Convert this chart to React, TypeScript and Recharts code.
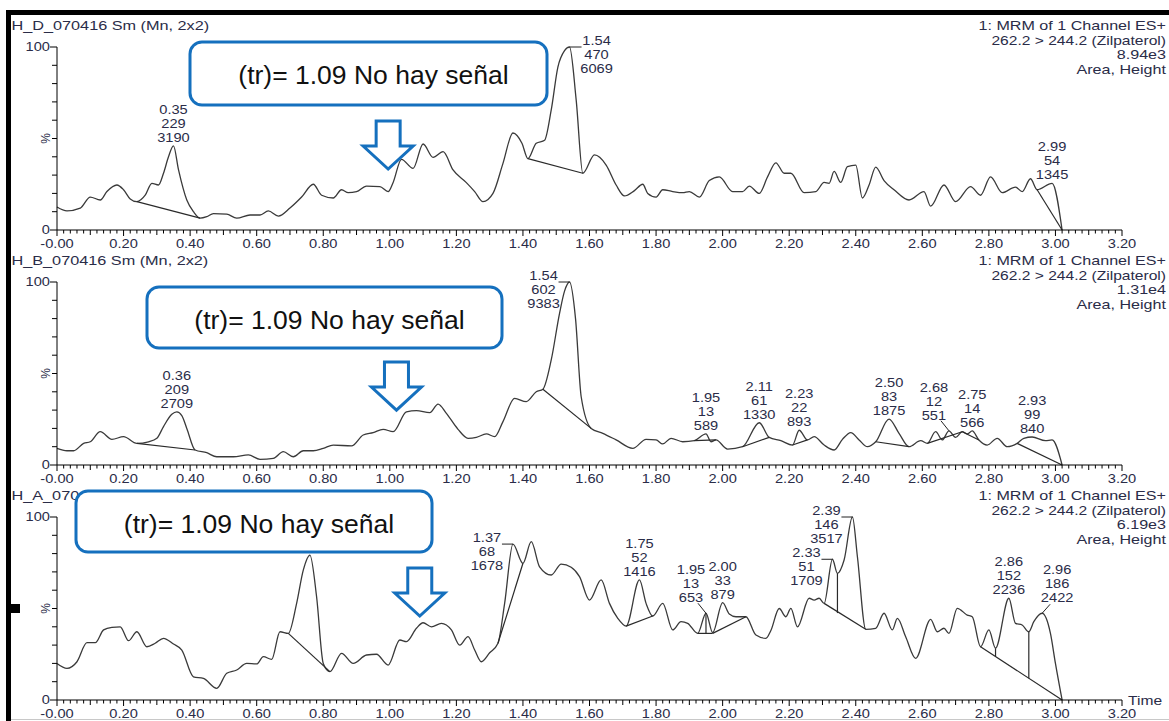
import { LineChart, Line, XAxis, YAxis, ReferenceLine, ReferenceDot } from 'recharts';

type Pt = [number, number];
type Peak = { rt: number; height: number; area: number };

// smoothed MRM traces: [retention time (min), relative intensity (%)]
const traceD: Pt[] = [
  [0, 12.6], [0.03, 10.5], [0.07, 12], [0.1, 18], [0.13, 16.4], [0.15, 21], [0.18, 24.6], [0.2, 22],
  [0.22, 17], [0.24, 15.5], [0.265, 19], [0.285, 25.5], [0.305, 24.6], [0.32, 31], [0.335, 40], [0.35, 46],
  [0.365, 33], [0.39, 16.4], [0.41, 10], [0.43, 6.5], [0.45, 7.3], [0.47, 9], [0.51, 8.7], [0.54, 6.5],
  [0.58, 8.2], [0.61, 8.2], [0.635, 10.4], [0.665, 7.6], [0.7, 12], [0.735, 18], [0.77, 25], [0.795, 19],
  [0.83, 17.5], [0.855, 22], [0.875, 20.4], [0.9, 21], [0.93, 24], [0.97, 23.7], [0.995, 21], [1.01, 26],
  [1.035, 38.6], [1.07, 33.7], [1.1, 47], [1.13, 39.7], [1.16, 42.8], [1.19, 32.8], [1.23, 25.9], [1.255, 21],
  [1.28, 15.5], [1.31, 20], [1.34, 36.4], [1.37, 53], [1.397, 47.4], [1.415, 39], [1.44, 47.4], [1.465, 49],
  [1.485, 65.6], [1.505, 89], [1.525, 98], [1.54, 100], [1.56, 71], [1.58, 31], [1.615, 41], [1.65, 35.5],
  [1.68, 24.6], [1.705, 18.6], [1.735, 21.5], [1.76, 25], [1.775, 20], [1.8, 18], [1.82, 22], [1.85, 21],
  [1.88, 20.4], [1.9, 21], [1.93, 18], [1.96, 27], [1.99, 29], [2.03, 21], [2.06, 21], [2.08, 24],
  [2.11, 20], [2.135, 29], [2.16, 36.7], [2.185, 31], [2.205, 31], [2.245, 20.4], [2.28, 21], [2.305, 26],
  [2.32, 25.5], [2.335, 32], [2.355, 26], [2.375, 34.6], [2.4, 35.5], [2.42, 17.5], [2.44, 24.6], [2.46, 34.4],
  [2.485, 27], [2.515, 22], [2.56, 16.4], [2.605, 21], [2.625, 13], [2.665, 24.6], [2.7, 15.5], [2.745, 23.7],
  [2.775, 19], [2.805, 29], [2.84, 20.4], [2.88, 23.4], [2.9, 21], [2.925, 28], [2.945, 22], [2.99, 25.5],
  [3.02, 0],
];

const traceB: Pt[] = [
  [0, 9.1], [0.03, 7.8], [0.05, 7.8], [0.08, 11.8], [0.1, 12.7], [0.13, 18.2], [0.165, 14], [0.2, 15.5],
  [0.24, 11.8], [0.275, 12.7], [0.3, 14.6], [0.32, 21], [0.345, 27.7], [0.36, 29], [0.375, 27], [0.39, 20],
  [0.415, 8.2], [0.45, 6.7], [0.48, 4.5], [0.53, 4.5], [0.575, 5.5], [0.61, 3.1], [0.65, 3.6], [0.68, 7.3],
  [0.71, 4.5], [0.74, 7.8], [0.77, 7.8], [0.8, 9.1], [0.83, 10.9], [0.885, 10.4], [0.92, 16.4], [0.95, 17.7],
  [0.98, 19.5], [1.01, 18.2], [1.05, 29], [1.08, 29.7], [1.12, 28.6], [1.145, 33.3], [1.17, 28.2], [1.205, 19.5],
  [1.235, 14.6], [1.26, 15.1], [1.29, 17], [1.315, 15.5], [1.34, 23.7], [1.375, 36.4], [1.41, 34.6], [1.44, 40],
  [1.46, 41.4], [1.485, 57.4], [1.51, 82.9], [1.525, 95], [1.54, 100], [1.558, 80], [1.575, 37.3], [1.605, 20],
  [1.64, 17.3], [1.68, 13.7], [1.73, 9.1], [1.77, 14], [1.8, 13.7], [1.82, 11.5], [1.845, 14.6], [1.88, 12.7],
  [1.915, 13.3], [1.95, 17], [1.965, 12.7], [1.98, 13.7], [2.015, 8.7], [2.06, 10], [2.11, 23.1], [2.14, 15.1],
  [2.175, 13.3], [2.21, 10.9], [2.23, 19], [2.255, 13.7], [2.275, 15.5], [2.305, 10.9], [2.335, 8.2], [2.36, 14],
  [2.385, 17.7], [2.41, 13.7], [2.435, 10], [2.46, 12.7], [2.5, 25.1], [2.53, 17.3], [2.56, 10], [2.595, 13.3],
  [2.615, 11.8], [2.64, 18.2], [2.66, 13.7], [2.68, 18.7], [2.7, 15.1], [2.72, 18.2], [2.735, 17], [2.75, 18.6],
  [2.77, 13.7], [2.795, 10.9], [2.825, 14.6], [2.855, 10], [2.885, 11.8], [2.905, 14.6], [2.93, 15.3], [2.97, 13.3],
  [2.99, 13.7], [3.02, 0],
];

const traceA: Pt[] = [
  [0, 20], [0.03, 17.3], [0.06, 20.9], [0.09, 31.3], [0.115, 31.3], [0.14, 38.3], [0.165, 39.7], [0.19, 40],
  [0.215, 32.4], [0.24, 37.3], [0.27, 29.1], [0.295, 31], [0.32, 33.7], [0.35, 30.6], [0.375, 27.3], [0.41, 12.7],
  [0.44, 11.8], [0.48, 6.4], [0.51, 14.6], [0.54, 16.4], [0.57, 20], [0.6, 19.7], [0.62, 23.7], [0.645, 22.2],
  [0.67, 37.3], [0.695, 36.4], [0.72, 52.8], [0.74, 71], [0.76, 79.2], [0.78, 56.4], [0.8, 20], [0.82, 15.5],
  [0.855, 25.5], [0.89, 20], [0.93, 24.6], [0.96, 25], [0.995, 19.1], [1.03, 32.8], [1.05, 31.9], [1.08, 39.2],
  [1.1, 42.2], [1.125, 40], [1.155, 41.9], [1.185, 38.3], [1.21, 30], [1.235, 34.6], [1.255, 27.3], [1.275, 20.9],
  [1.3, 25.8], [1.325, 31], [1.345, 52.8], [1.37, 85.2], [1.4, 74.7], [1.425, 86.5], [1.45, 72.8], [1.485, 68.3],
  [1.515, 74.3], [1.545, 72.5], [1.57, 67.4], [1.6, 54.6], [1.635, 65.6], [1.66, 52.8], [1.685, 44.6], [1.71, 40.4],
  [1.75, 65.6], [1.77, 52.8], [1.79, 45.9], [1.82, 52.8], [1.85, 38.3], [1.875, 42.8], [1.895, 41.9], [1.925, 36.4],
  [1.95, 47.4], [1.97, 36.8], [2.0, 53.2], [2.02, 47], [2.04, 45.5], [2.07, 45.5], [2.1, 35.5], [2.13, 33.7],
  [2.145, 38], [2.17, 50], [2.19, 45.5], [2.205, 50.1], [2.225, 40], [2.26, 55.6], [2.275, 54.6], [2.29, 55.6],
  [2.305, 52.8], [2.33, 76.9], [2.345, 69.2], [2.365, 76.5], [2.39, 100], [2.405, 78.3], [2.43, 38.6], [2.46, 39.2],
  [2.485, 47.4], [2.51, 38.3], [2.525, 44.6], [2.55, 34.6], [2.58, 22.8], [2.625, 44.1], [2.645, 37.3], [2.665, 39.2],
  [2.68, 36.4], [2.705, 50.1], [2.735, 46.4], [2.75, 45.5], [2.775, 29.1], [2.8, 38.3], [2.82, 28.3], [2.86, 55.6],
  [2.88, 41.9], [2.9, 41], [2.92, 37.3], [2.935, 42.8], [2.96, 47.4], [2.985, 36.4], [3.0, 20], [3.02, 0],
];

// integrated peaks: retention time, height, area
const peaksD: Peak[] = [
  { rt: 0.35, height: 229, area: 3190 },
  { rt: 1.54, height: 470, area: 6069 },
  { rt: 2.99, height: 54, area: 1345 },
];
const peaksB: Peak[] = [
  { rt: 0.36, height: 209, area: 2709 },
  { rt: 1.54, height: 602, area: 9383 },
  { rt: 1.95, height: 13, area: 589 },
  { rt: 2.11, height: 61, area: 1330 },
  { rt: 2.23, height: 22, area: 893 },
  { rt: 2.5, height: 83, area: 1875 },
  { rt: 2.68, height: 12, area: 551 },
  { rt: 2.75, height: 14, area: 566 },
  { rt: 2.93, height: 99, area: 840 },
];
const peaksA: Peak[] = [
  { rt: 1.37, height: 68, area: 1678 },
  { rt: 1.75, height: 52, area: 1416 },
  { rt: 1.95, height: 13, area: 653 },
  { rt: 2.0, height: 33, area: 879 },
  { rt: 2.33, height: 51, area: 1709 },
  { rt: 2.39, height: 146, area: 3517 },
  { rt: 2.86, height: 152, area: 2236 },
  { rt: 2.96, height: 186, area: 2422 },
];

// integration baselines and drop lines
const baseD: [Pt, Pt][] = [
  [[0.24, 15.5], [0.43, 6.5]],
  [[1.415, 39], [1.58, 31]],
  [[2.945, 22], [3.02, 0]],
];
const baseB: [Pt, Pt][] = [
  [[0.24, 11.8], [0.415, 8.2]],
  [[1.46, 41.4], [1.605, 20]],
  [[1.915, 13.3], [1.98, 13.7]],
  [[2.06, 10], [2.14, 15.1]],
  [[2.21, 10.9], [2.255, 13.7]],
  [[2.46, 12.7], [2.56, 10]],
  [[2.615, 11.8], [2.72, 18.2]],
  [[2.72, 18.2], [2.77, 13.7]],
  [[2.885, 11.8], [3.02, 0]],
];
const baseA: [Pt, Pt][] = [
  [[0.695, 36.4], [0.82, 15.5]],
  [[1.325, 31], [1.4, 74.7]],
  [[1.71, 40.4], [1.79, 45.9]],
  [[1.925, 36.4], [1.97, 36.4]],
  [[1.95, 47.4], [1.95, 36.4]],
  [[1.97, 36.4], [2.07, 45.5]],
  [[2.305, 52.8], [2.43, 38.6]],
  [[2.345, 69.2], [2.345, 47.5]],
  [[2.775, 29.1], [3.02, 0]],
  [[2.82, 28.3], [2.82, 23.8]],
  [[2.92, 37.3], [2.92, 11.9]],
];

const sampleNames = ['H_D_070416 Sm (Mn, 2x2)', 'H_B_070416 Sm (Mn, 2x2)', 'H_A_070416 Sm (Mn, 2x2)'];
const channelText = ['1: MRM of 1 Channel ES+', '262.2 > 244.2 (Zilpaterol)'];
const intensityText = ['8.94e3', '1.31e4', '6.19e3'];
const integrationText = 'Area, Height';
const xTickLabels = [
  '-0.00', '0.20', '0.40', '0.60', '0.80', '1.00', '1.20', '1.40', '1.60',
  '1.80', '2.00', '2.20', '2.40', '2.60', '2.80', '3.00', '3.20',
];
const calloutText = '(tr)= 1.09 No hay señal';
// where each callout arrow points (time, %)
const calloutTips: Pt[] = [[0.995, 33.3], [1.02, 30], [1.09, 45.9]];

const traces = [traceD, traceB, traceA];
const peaks = [peaksD, peaksB, peaksA];
const baselines = [baseD, baseB, baseA];

// label placement for crowded peaks (default: centred above)
const labelPlace: Record<string, string>[] = [
  { '1.54': 'right' },
  { '1.54': 'left', '2.68': 'upleft' },
  { '1.37': 'left', '2.33': 'left', '2.39': 'left', '1.95': 'upleft', '2.96': 'upright' },
];
const boxes = [
  { x: 190, y: 42, w: 357, h: 63 },
  { x: 147, y: 287, w: 355, h: 61 },
  { x: 76, y: 491, w: 356, h: 61 },
];

const W = 1169;
const H = 721;
const PANEL_H = 250;
const PANEL_STEP = 235;
const PLOT_BOTTOM = 230;
const AXIS_X = 57;
const HEADER_RIGHT = 1166;
const INK = '#2a2c48';
const BLUE = '#1570be';
const FONT = "'Liberation Sans', Arial, sans-serif";

const xTicks = Array.from({ length: 161 }, (_, i) => i / 50);
const yTicks = [0, 10, 20, 30, 40, 50, 60, 70, 80, 90, 100];

const SText = ({ x, y, anchor = 'start', size = 12, sx = 1.22, children }: any) => (
  <text
    transform={`translate(${x} ${y}) scale(${sx} 1)`}
    textAnchor={anchor}
    fontSize={size}
    fontFamily={FONT}
    fill={INK}
  >
    {children}
  </text>
);

const XTick = (props: any) => {
  const { x, payload } = props;
  const step = Math.round(payload.value * 100);
  const major = step % 20 === 0;
  const len = major ? 6 : step % 10 === 0 ? 5 : 3.5;
  return (
    <g>
      <line x1={x} x2={x} y1={PLOT_BOTTOM} y2={PLOT_BOTTOM + len} stroke="#000" strokeWidth={1} />
      {major && (
        <SText x={x} y={PLOT_BOTTOM + 17.5} anchor="middle">
          {xTickLabels[step / 20]}
        </SText>
      )}
    </g>
  );
};

const YTick = (props: any) => {
  const { y, payload } = props;
  const v = payload.value;
  const end = v === 0 || v === 100;
  return (
    <g>
      <line x1={AXIS_X - (end ? 7 : 5)} x2={AXIS_X} y1={y} y2={y} stroke="#000" strokeWidth={1} />
      {end && (
        <SText x={AXIS_X - 7} y={y + 4} anchor="end">
          {String(v)}
        </SText>
      )}
      {v === 50 && (
        <text
          transform={`translate(${AXIS_X - 7} ${y}) rotate(-90)`}
          textAnchor="middle"
          fontSize={12}
          fontFamily={FONT}
          fill={INK}
        >
          %
        </text>
      )}
    </g>
  );
};

const peakLabel = (p: Peak, place: string) => (props: any) => {
  const { cx, cy } = props;
  const lines = [p.rt.toFixed(2), String(p.height), String(p.area)];
  let tx = cx;
  let top = cy - 8 - 28;
  let leader: number[] | null = null;
  if (place === 'left') {
    tx = cx - 26;
    top = cy - 6;
    leader = [cx - 11, cy, cx, cy];
  } else if (place === 'right') {
    tx = cx + 27;
    top = cy - 6;
    leader = [cx, cy, cx + 12, cy];
  } else if (place === 'upleft') {
    tx = cx - 15;
    top = cy - 15 - 28;
    leader = [cx - 8, cy - 10, cx, cy];
  } else if (place === 'upright') {
    tx = cx + 15;
    top = cy - 15 - 28;
    leader = [cx + 8, cy - 9, cx, cy];
  }
  return (
    <g>
      {leader && (
        <line x1={leader[0]} y1={leader[1]} x2={leader[2]} y2={leader[3]} stroke="#222" strokeWidth={1} />
      )}
      {lines.map((s, i) => (
        <SText key={i} x={tx} y={top + i * 14 + 4} anchor="middle">
          {s}
        </SText>
      ))}
    </g>
  );
};

const arrowShape = (props: any) => {
  const { cx, cy } = props;
  const pts = [
    [cx - 12, cy - 48], [cx + 12, cy - 48], [cx + 12, cy - 23], [cx + 25, cy - 23],
    [cx, cy], [cx - 25, cy - 23], [cx - 12, cy - 23],
  ];
  return <polygon points={pts.map((q) => q.join(',')).join(' ')} fill="#fff" stroke={BLUE} strokeWidth={3} />;
};

const Panel = ({ index }: { index: number }) => {
  const trace = traces[index];
  const data = trace.map(([t, v]) => ({ t, v }));
  const valueAt = (rt: number) => (trace.find((q) => Math.abs(q[0] - rt) < 1e-6) ?? [rt, 0])[1];
  const tip = calloutTips[index];
  return (
    <div style={{ position: 'absolute', left: 0, top: index * PANEL_STEP }}>
      <LineChart width={W} height={PANEL_H} data={data} margin={{ top: 47, right: 47, bottom: 0, left: 17 }}>
        <XAxis
          dataKey="t"
          type="number"
          domain={[0, 3.2]}
          ticks={xTicks}
          interval={0}
          height={20}
          axisLine={{ stroke: '#000' }}
          tickLine={false}
          tick={(p: any) => <XTick {...p} />}
        />
        <YAxis
          type="number"
          domain={[0, 100]}
          ticks={yTicks}
          interval={0}
          width={40}
          axisLine={{ stroke: '#000' }}
          tickLine={false}
          tick={(p: any) => <YTick {...p} />}
        />
        <Line
          type="monotone"
          dataKey="v"
          stroke="#3a3a3a"
          strokeWidth={1.3}
          dot={false}
          isAnimationActive={false}
        />
        {baselines[index].map(([a, b], i) => (
          <ReferenceLine
            key={`b${i}`}
            segment={[{ x: a[0], y: a[1] }, { x: b[0], y: b[1] }]}
            stroke="#2a2a2a"
            strokeWidth={1.2}
          />
        ))}
        {peaks[index].map((p) => (
          <ReferenceDot
            key={`p${p.rt}`}
            x={p.rt}
            y={valueAt(p.rt)}
            r={1}
            shape={peakLabel(p, labelPlace[index][p.rt.toFixed(2)] ?? 'above')}
          />
        ))}
        <ReferenceDot x={tip[0]} y={tip[1]} r={1} shape={arrowShape} />
      </LineChart>
    </div>
  );
};

const Overlay = () => (
  <svg width={W} height={H} style={{ position: 'absolute', left: 0, top: 0 }}>
    {sampleNames.map((name, i) => {
      const dy = i * PANEL_STEP;
      return (
        <g key={name}>
          <SText x={11.5} y={30 + dy} size={13} sx={1.25}>{name}</SText>
          <SText x={HEADER_RIGHT} y={30 + dy} size={13} sx={1.24} anchor="end">{channelText[0]}</SText>
          <SText x={HEADER_RIGHT} y={44.5 + dy} size={13} sx={1.2} anchor="end">{channelText[1]}</SText>
          <SText x={HEADER_RIGHT} y={59 + dy} size={13} sx={1.24} anchor="end">{intensityText[i]}</SText>
          <SText x={HEADER_RIGHT} y={74 + dy} size={13} sx={1.24} anchor="end">{integrationText}</SText>
        </g>
      );
    })}
    <SText x={1128} y={705} size={13} sx={1.2}>Time</SText>
    {boxes.map((b, i) => (
      <g key={i}>
        <rect x={b.x} y={b.y} width={b.w} height={b.h} rx={12} ry={12} fill="#fff" stroke={BLUE} strokeWidth={3} />
        <text
          x={b.x + b.w / 2 + 5}
          y={b.y + 41.5}
          textAnchor="middle"
          fontSize={26.5}
          fontFamily={FONT}
          fill="#111"
        >
          {calloutText}
        </text>
      </g>
    ))}
    <rect x={6} y={10} width={W - 6} height={5} fill="#000" />
    <rect x={6} y={10} width={5} height={H - 10} fill="#000" />
    <rect x={6} y={604} width={14} height={9} fill="#000" />
    <line x1={11} x2={W} y1={719.5} y2={719.5} stroke="#c8c8c8" strokeWidth={1} />
  </svg>
);

export default function App() {
  return (
    <div
      style={{
        position: 'absolute',
        left: 0,
        top: 0,
        width: W,
        height: H,
        overflow: 'hidden',
        background: '#fff',
      }}
    >
      <Panel index={0} />
      <Panel index={1} />
      <Panel index={2} />
      <Overlay />
    </div>
  );
}
